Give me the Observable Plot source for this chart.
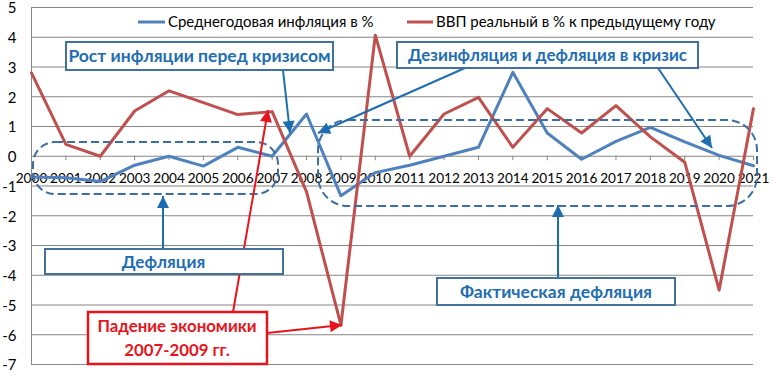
<!DOCTYPE html>
<html><head><meta charset="utf-8">
<script src="https://cdn.jsdelivr.net/npm/d3@7"></script>
<script src="https://cdn.jsdelivr.net/npm/@observablehq/plot@0.6"></script>
<style>body{margin:0;background:#fff;} svg{display:block}</style>
</head><body><div id="chart"></div>
<script>
// ---- data ----
const years = [2000,2001,2002,2003,2004,2005,2006,2007,2008,2009,2010,2011,2012,2013,2014,2015,2016,2017,2018,2019,2020,2021];
const inflation = [-0.7,-0.72,-0.85,-0.3,0,-0.33,0.3,0,1.42,-1.33,-0.55,-0.3,0,0.3,2.82,0.78,-0.1,0.5,0.97,0.48,0.03,-0.32];
const gdp = [2.8,0.4,0,1.52,2.2,1.8,1.4,1.5,-1.2,-5.68,4.07,0,1.42,1.98,0.3,1.6,0.78,1.7,0.65,-0.2,-4.5,1.6];
const yTicks = [5,4,3,2,1,0,-1,-2,-3,-4,-5,-6,-7];
const seriesNames = ["Среднегодовая инфляция в %", "ВВП реальный в % к предыдущему году"];
const seriesColors = ["#4f81bd", "#c0504d"];
const notes = ["Рост инфляции перед кризисом", "Дезинфляция и дефляция в кризис", "Дефляция", "Фактическая дефляция", "Падение экономики", "2007-2009 гг."];

const infData = years.map((year, i) => ({year, value: inflation[i]}));
const gdpData = years.map((year, i) => ({year, value: gdp[i]}));

const FONT = "Lato, 'Open Sans', sans-serif";
const chart = Plot.plot({
  width: 780, height: 381,
  marginLeft: 31, marginRight: 27, marginTop: 7, marginBottom: 17,
  style: {fontFamily: FONT, fontSize: "15px", color: "#000", background: "#fff", overflow: "visible"},
  x: {domain: [2000, 2021], axis: null},
  y: {domain: [-7, 5], axis: null},
  marks: [
    Plot.gridY(yTicks, {stroke: "#868686", strokeOpacity: 1, strokeWidth: 1}),
    Plot.ruleX([2000], {stroke: "#868686", strokeWidth: 1}),
    Plot.ruleX(years, {x: d => d, y1: 0, y2: -0.15, stroke: "#868686"}),
    Plot.axisY(yTicks, {tickSize: 0, tickPadding: 15, tickFormat: d => String(d), fontSize: 15, label: null, fill: "#000", dy: 1}),
    Plot.text(years, {x: d => d, y: () => 0, dy: 22, text: d => String(d), fontSize: 13.6, fill: "#000"}),
    Plot.line(infData, {x: "year", y: "value", stroke: seriesColors[0], strokeWidth: 3}),
    Plot.line(gdpData, {x: "year", y: "value", stroke: seriesColors[1], strokeWidth: 3})
  ]
});
document.getElementById("chart").append(chart);

// ---- legend & annotations overlay ----
const svg = d3.select(chart);
const defs = svg.append("defs");
function marker(id, color) {
  defs.append("marker").attr("id", id).attr("viewBox", "0 0 10 10")
    .attr("refX", 10).attr("refY", 5).attr("markerUnits", "userSpaceOnUse")
    .attr("markerWidth", 13).attr("markerHeight", 12).attr("orient", "auto")
    .append("path").attr("d", "M0,0L10,5L0,10Z").attr("fill", color);
}
const BLUE = "#1f6db1", BOX = "#41719c", RED = "#e8141c";
marker("ab", BLUE); marker("ar", RED);
const g = svg.append("g").attr("text-anchor", "start");

// legend
const leg = [[138, 165, 168], [407, 433, 436]];
leg.forEach(([x1, x2, tx], i) => {
  g.append("line").attr("x1", x1).attr("x2", x2).attr("y1", 22).attr("y2", 22)
    .attr("stroke", seriesColors[i]).attr("stroke-width", 3);
  g.append("text").attr("x", tx).attr("y", 22).attr("dy", "0.35em").attr("text-anchor", "start")
    .attr("font-family", FONT).attr("font-size", 15).attr("fill", "#000").text(seriesNames[i]);
});

// dashed rounded regions
[[33, 142, 245, 52, 22], [318, 120, 439, 86, 30]].forEach(([x, y, w, h, r]) => {
  g.append("rect").attr("x", x).attr("y", y).attr("width", w).attr("height", h)
    .attr("rx", r).attr("ry", r).attr("fill", "none").attr("stroke", "#3b6fa3")
    .attr("stroke-width", 2).attr("stroke-dasharray", "8,4");
});

function arrow(x1, y1, x2, y2, color, id) {
  g.append("line").attr("x1", x1).attr("y1", y1).attr("x2", x2).attr("y2", y2)
    .attr("stroke", color).attr("stroke-width", 2).attr("marker-end", `url(#${id})`);
}
// blue arrows
arrow(283, 70, 290, 133, BLUE, "ab");
arrow(465, 68, 318, 133, BLUE, "ab");
arrow(658, 68, 712, 148, BLUE, "ab");
arrow(163, 249, 163, 196, BLUE, "ab");
arrow(558, 278, 558, 205, BLUE, "ab");
// red arrows
arrow(233, 312, 268, 110, RED, "ar");
arrow(267, 333, 342, 325, RED, "ar");

function box(x, y, w, h, stroke, sw) {
  g.append("rect").attr("x", x).attr("y", y).attr("width", w).attr("height", h)
    .attr("fill", "#fff").attr("stroke", stroke).attr("stroke-width", sw);
}
function label(x, y, t, color, size) {
  g.append("text").attr("x", x).attr("y", y).attr("dy", "0.35em").attr("text-anchor", "middle")
    .attr("font-family", FONT).attr("font-weight", "bold").attr("font-size", size)
    .attr("fill", color).text(t);
}
box(66, 42, 267, 28, BOX, 2); label(199.5, 56, notes[0], BLUE, 17.5);
box(397, 42, 301, 26, BOX, 2); label(547.5, 55, notes[1], BLUE, 17);
box(45, 249, 238, 25, BOX, 2); label(163.5, 262, notes[2], BLUE, 17.2);
box(437, 278, 238, 27, BOX, 2); label(556, 292, notes[3], BLUE, 17.5);
box(88, 312, 179, 52, RED, 2.5);
label(177, 326, notes[4], RED, 16.8);
label(177, 350, notes[5], RED, 16.8);
</script>
</body></html>
